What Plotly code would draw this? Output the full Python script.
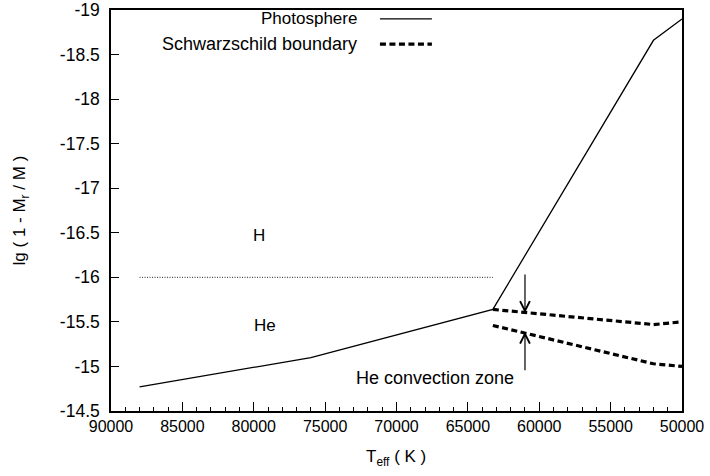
import plotly.graph_objects as go

# Photosphere depth vs. effective temperature
teff_phot = [88000, 76000, 63250, 52000, 50000]
lg_phot = [-14.77, -15.10, -15.64, -18.66, -18.90]

# Schwarzschild boundaries of the He convection zone (upper and lower)
teff_sch_top = [63250, 52000, 50000]
lg_sch_top = [-15.64, -15.47, -15.50]
teff_sch_bot = [63250, 52000, 50000]
lg_sch_bot = [-15.46, -15.03, -15.00]

# H / He transition level
teff_hhe = [88000, 63250]
lg_hhe = [-16.0, -16.0]

x_ticks = [90000, 85000, 80000, 75000, 70000, 65000, 60000, 55000, 50000]
y_ticks = [-19, -18.5, -18, -17.5, -17, -16.5, -16, -15.5, -15, -14.5]

FONT = "Liberation Sans, Arial, sans-serif"

fig = go.Figure()

fig.add_trace(go.Scatter(x=teff_hhe, y=lg_hhe, mode="lines",
                         line=dict(color="#222", width=1, dash="1px,1.5px"),
                         showlegend=False))
fig.add_trace(go.Scatter(x=teff_phot, y=lg_phot, mode="lines",
                         line=dict(color="black", width=1.3),
                         name="Photosphere", showlegend=False))
for xs, ys in [(teff_sch_top, lg_sch_top), (teff_sch_bot, lg_sch_bot)]:
    fig.add_trace(go.Scatter(x=xs, y=ys, mode="lines",
                             line=dict(color="black", width=3.2, dash="6px,3.5px"),
                             name="Schwarzschild boundary", showlegend=False))

# Key drawn on the right of its labels
key = [("Photosphere", 0.978, 17, dict(color="black", width=1.3)),
       ("Schwarzschild boundary", 0.915, 18,
        dict(color="black", width=3.2, dash="6px,3.5px"))]
for label, yp, fs, ln in key:
    fig.add_annotation(x=0.434, y=yp, xref="paper", yref="paper", text=label,
                       showarrow=False, xanchor="right", yanchor="middle",
                       font=dict(family=FONT, size=fs, color="black"))
    fig.add_shape(type="line", xref="paper", yref="paper",
                  x0=0.471, x1=0.562, y0=yp, y1=yp, line=ln)

# Region labels
for txt, xv, yv, fs in [("H", 79600, -16.47, 17), ("He", 79200, -15.46, 17),
                        ("He convection zone", 67300, -14.87, 18)]:
    fig.add_annotation(x=xv, y=yv, text=txt, showarrow=False,
                       font=dict(family=FONT, size=fs, color="black"))

# Arrows pointing at the convection zone boundaries
for y_tail, y_head in [(-16.05, -15.60), (-14.94, -15.39)]:
    fig.add_annotation(x=61000, y=y_head, ax=61000, ay=y_tail,
                       xref="x", yref="y", axref="x", ayref="y",
                       showarrow=True, arrowhead=5, arrowsize=1.6,
                       arrowwidth=1.2, arrowcolor="black", text="")

# Axis titles
fig.add_annotation(x=-0.157, y=0.501, xref="paper", yref="paper",
                   xanchor="center", yanchor="middle",
                   text="lg ( 1 - M<sub>r</sub> / M )", textangle=-90,
                   showarrow=False, font=dict(family=FONT, size=17, color="black"))
fig.add_annotation(x=0.499, y=-0.117, xref="paper", yref="paper",
                   xanchor="center", yanchor="middle",
                   text="T<sub>eff</sub> ( K )",
                   showarrow=False, font=dict(family=FONT, size=17, color="black"))

fig.update_xaxes(range=[90000, 50000], tickvals=x_ticks,
                 ticktext=[str(v) for v in x_ticks], automargin=False,
                 ticks="inside", ticklen=9, tickwidth=1, tickcolor="black",
                 minor=dict(ticks="inside", dtick=1000, ticklen=4, tickcolor="black"),
                 showline=True, linecolor="black", linewidth=1.5, mirror=True,
                 showgrid=False, zeroline=False,
                 tickfont=dict(family=FONT, size=16, color="black"))
fig.update_yaxes(range=[-14.5, -19], tickvals=y_ticks,
                 ticktext=[str(v) for v in y_ticks], automargin=False,
                 ticks="inside", ticklen=8, tickwidth=1, tickcolor="black",
                 ticklabelstandoff=6,
                 showline=True, linecolor="black", linewidth=1.5, mirror=True,
                 showgrid=False, zeroline=False,
                 tickfont=dict(family=FONT, size=17.5, color="black"))

fig.update_layout(width=710, height=476, plot_bgcolor="white", paper_bgcolor="white",
                  margin=dict(l=111, r=28, t=10, b=65), showlegend=False)

fig.write_html("out.html")
